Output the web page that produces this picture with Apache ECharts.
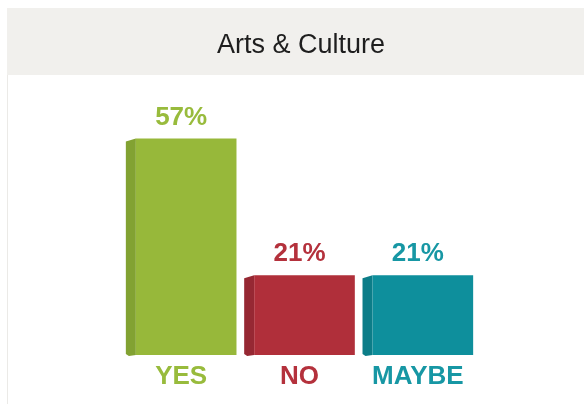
<!DOCTYPE html>
<html>
<head>
<meta charset="utf-8">
<script src="https://cdn.jsdelivr.net/npm/echarts@6/dist/echarts.min.js"></script>
<style>
html,body{margin:0;padding:0;background:#fff;}
#c{width:584px;height:404px;}
</style>
</head>
<body>
<div id="c"></div>
<script>
var categories = ['YES', 'NO', 'MAYBE'];
var values = [57, 21, 21];
var titleText = 'Arts & Culture';

var frontColors = ['#97b83a', '#b02f3a', '#0e8f9c'];
var sideColors = ['#82a232', '#962833', '#0c7d88'];
var textColors = ['#98bb3c', '#b4313c', '#1797a4'];

var chart = echarts.init(document.getElementById('c'), null, {renderer: 'canvas'});

var option = {
  animation: false,
  backgroundColor: '#ffffff',
  title: {
    text: titleText,
    left: 296,
    top: 27,
    textAlign: 'center',
    textStyle: {
      fontFamily: 'Liberation Sans, Arial, sans-serif',
      fontWeight: 'normal',
      fontSize: 27,
      color: '#1e1e1e'
    }
  },
  graphic: [
    {type: 'rect', z: -10, shape: {x: 7, y: 8, width: 577, height: 67}, style: {fill: '#f1f0ed'}},
    {type: 'line', z: -10, shape: {x1: 7.5, y1: 75, x2: 7.5, y2: 404}, style: {stroke: '#ebeae7', lineWidth: 1}}
  ],
  grid: {left: 122, width: 355, top: 127, bottom: 49, containLabel: false},
  xAxis: {
    type: 'category',
    data: categories,
    axisLine: {show: false},
    axisTick: {show: false},
    axisLabel: {
      interval: 0,
      hideOverlap: false,
      margin: 9,
      fontFamily: 'Liberation Sans, Arial, sans-serif',
      fontWeight: 'bold',
      fontSize: 26,
      color: function (v, i) { return textColors[categories.indexOf(v)]; }
    }
  },
  yAxis: {
    type: 'value',
    min: 0,
    max: 60,
    show: false,
    splitLine: {show: false}
  },
  series: [{
    type: 'custom',
    data: values.map(function (v, i) { return [i, v]; }),
    renderItem: function (params, api) {
      var i = api.value(0);
      var v = api.value(1);
      var top = api.coord([i, v]);
      var base = api.coord([i, 0]);
      var band = api.size([1, 0])[0];
      var w = band * 0.935;
      var xL = top[0] - w / 2;
      var xR = top[0] + w / 2;
      var side = 10;
      var yT = top[1];
      var yB = base[1];
      return {
        type: 'group',
        children: [
          {type: 'polygon', shape: {points: [[xL, yT + 3], [xL + side, yT], [xL + side, yB], [xL + 3, yB + 1], [xL, yB - 1]]},
            style: {fill: sideColors[i]}},
          {type: 'rect', shape: {x: xL + side, y: yT, width: xR - xL - side, height: yB - yT},
            style: {fill: frontColors[i]}},
          {type: 'text', x: top[0], y: yT - 8,
            style: {text: v + '%', textAlign: 'center', textVerticalAlign: 'bottom',
              fontFamily: 'Liberation Sans, Arial, sans-serif', fontWeight: 'bold', fontSize: 26,
              fill: textColors[i]}}
        ]
      };
    }
  }]
};
chart.setOption(option);
</script>
</body>
</html>
